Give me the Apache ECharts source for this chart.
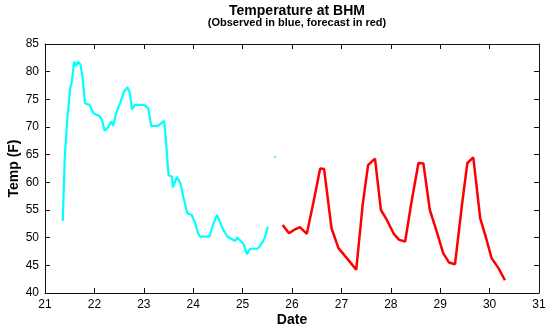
<!DOCTYPE html>
<html>
<head>
<meta charset="utf-8">
<script src="https://cdn.jsdelivr.net/npm/echarts@6/dist/echarts.min.js"></script>
<style>
  html, body { margin: 0; padding: 0; background: #fff; }
  #chart { width: 558px; height: 336px; }
</style>
</head>
<body>
<div id="chart"></div>
<script>
// Observed temperatures (day of month, deg F)
const observedDates = [21.36, 21.40, 21.45, 21.51, 21.54, 21.59, 21.63, 21.67, 21.72, 21.76,
  21.81, 21.90, 21.98, 22.10, 22.15, 22.21, 22.28, 22.34, 22.38, 22.44,
  22.52, 22.60, 22.67, 22.72, 22.76, 22.82, 23.01, 23.09, 23.15, 23.29,
  23.41, 23.44, 23.50, 23.57, 23.59, 23.67, 23.74, 23.80, 23.88, 23.97,
  24.04, 24.10, 24.14, 24.33, 24.40, 24.48, 24.52, 24.61, 24.69, 24.85,
  24.89, 25.01, 25.09, 25.15, 25.31, 25.39, 25.45, 25.51];
const observedTemps = [53, 64.6, 71.3, 77, 78, 81.8, 81, 81.8, 81.2, 79,
  74.3, 74, 72.5, 72, 71.3, 69.3, 70, 71, 70.2, 72.5,
  74.3, 76.4, 77.2, 76.1, 73.2, 74, 74, 73.4, 70.2, 70.2,
  71.1, 68.5, 61.3, 61, 59.1, 61, 59.8, 57.4, 54.4, 54.1,
  52.6, 50.8, 50.2, 50.2, 52.3, 54.1, 53.9, 51.4, 50.2, 49.4,
  50, 49, 47, 48, 48, 49, 50, 52];

// Single isolated observation
const strayDates = [25.66];
const strayTemps = [64.6];

// Forecast temperatures (day of month, deg F)
const forecastDates = [25.81, 25.94, 26.04, 26.16, 26.30, 26.43, 26.57, 26.65, 26.80, 26.94,
  27.11, 27.30, 27.43, 27.54, 27.68, 27.80, 27.92, 28.06, 28.17, 28.29,
  28.42, 28.56, 28.66, 28.79, 28.93, 29.06, 29.18, 29.30, 29.44, 29.55,
  29.67, 29.81, 29.93, 30.04, 30.18, 30.31];
const forecastTemps = [52.3, 50.8, 51.4, 51.9, 50.7, 56.2, 62.5, 62.4, 51.7, 48.1,
  46.3, 44.2, 55.9, 63.1, 64.3, 55.0, 53.2, 50.7, 49.6, 49.3,
  56.5, 63.5, 63.4, 55.0, 51.1, 47.2, 45.5, 45.2, 55.9, 63.5,
  64.5, 53.5, 49.9, 46.3, 44.5, 42.3];

const xTicks = { min: 21, max: 31, interval: 1 };
const yTicks = { min: 40, max: 85, interval: 5 };

const zip = (xs, ys) => xs.map((x, i) => [x, ys[i]]);

const font = '"Liberation Sans", Arial, sans-serif';
const lineCol = '#111';

const chart = echarts.init(document.getElementById('chart'), null, { renderer: 'canvas' });

const tickStyle = { show: true, inside: true, length: 5, lineStyle: { color: lineCol, width: 1 } };

chart.setOption({
  backgroundColor: '#ffffff',
  animation: false,
  title: {
    text: 'Temperature at BHM',
    subtext: '(Observed in blue, forecast in red)',
    left: 292,
    textAlign: 'center',
    top: -1,
    itemGap: -1,
    textStyle: { fontFamily: font, fontSize: 14, fontWeight: 'bold', color: '#000' },
    subtextStyle: { fontFamily: font, fontSize: 11, fontWeight: 'bold', color: '#000' }
  },
  grid: { left: 45, top: 44, width: 494, height: 249, containLabel: false, outerBoundsMode: 'none' },
  xAxis: [{
    type: 'value',
    min: xTicks.min, max: xTicks.max, interval: xTicks.interval,
    position: 'bottom',
    name: 'Date',
    nameLocation: 'middle',
    nameGap: 20,
    nameMoveOverlap: false,
    nameTextStyle: { fontFamily: font, fontSize: 14, fontWeight: 'bold', color: '#000' },
    axisLine: { show: true, onZero: false, lineStyle: { color: lineCol, width: 1 } },
    axisTick: tickStyle,
    axisLabel: { fontFamily: font, fontSize: 12, color: '#000', margin: 6 },
    splitLine: { show: false }
  }, {
    type: 'value',
    min: xTicks.min, max: xTicks.max, interval: xTicks.interval,
    position: 'top',
    axisLine: { show: true, onZero: false, lineStyle: { color: lineCol, width: 1 } },
    axisTick: tickStyle,
    axisLabel: { show: false },
    splitLine: { show: false }
  }],
  yAxis: [{
    type: 'value',
    min: yTicks.min, max: yTicks.max, interval: yTicks.interval,
    position: 'left',
    name: 'Temp (F)',
    nameLocation: 'middle',
    nameGap: 24,
    nameMoveOverlap: false,
    nameTextStyle: { fontFamily: font, fontSize: 14, fontWeight: 'bold', color: '#000' },
    axisLine: { show: true, onZero: false, lineStyle: { color: lineCol, width: 1 } },
    axisTick: tickStyle,
    axisLabel: { fontFamily: font, fontSize: 12, color: '#000', margin: 6 },
    splitLine: { show: false }
  }, {
    type: 'value',
    min: yTicks.min, max: yTicks.max, interval: yTicks.interval,
    position: 'right',
    axisLine: { show: true, onZero: false, lineStyle: { color: lineCol, width: 1 } },
    axisTick: tickStyle,
    axisLabel: { show: false },
    splitLine: { show: false }
  }],
  series: [{
    name: 'Observed',
    type: 'line',
    data: zip(observedDates, observedTemps),
    showSymbol: false,
    symbol: 'none',
    lineStyle: { color: '#00ffff', width: 2.2 },
    z: 3
  }, {
    name: 'Observed (isolated)',
    type: 'scatter',
    data: zip(strayDates, strayTemps),
    symbol: 'rect',
    symbolSize: [2, 1.5],
    itemStyle: { color: '#00e0e0' }
  }, {
    name: 'Forecast',
    type: 'line',
    data: zip(forecastDates, forecastTemps),
    showSymbol: false,
    symbol: 'none',
    lineStyle: { color: '#ff0000', width: 2.5 },
    z: 3
  }]
});
</script>
</body>
</html>
